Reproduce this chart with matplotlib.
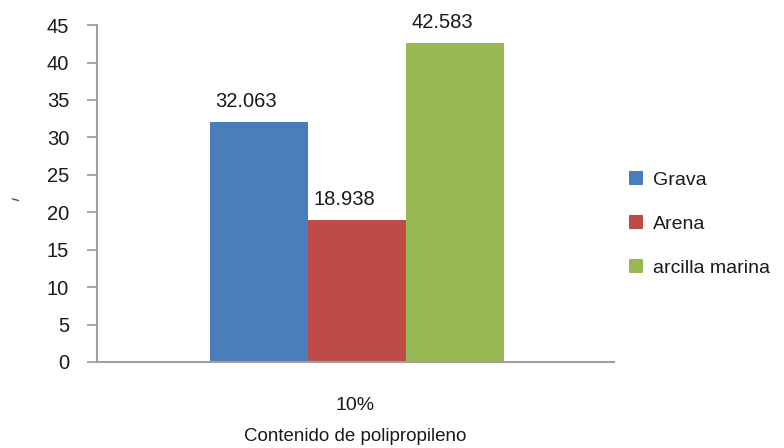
import matplotlib
matplotlib.use("Agg")
from matplotlib import pyplot as plt
import numpy as np

categorias = ["10%"]
series = ["Grava", "Arena", "arcilla marina"]
valores = [32.063, 18.938, 42.583]
colores = ["#4a7ebb", "#be4b48", "#98b954"]
yticks = [0, 5, 10, 15, 20, 25, 30, 35, 40, 45]

plt.rcParams['font.family'] = ['Liberation Sans', 'DejaVu Sans']

fig = plt.figure(figsize=(7.84, 4.48), dpi=100)
ax = fig.add_axes([0.1237, 0.192, 0.6595, 0.752])

ancho = 0.19
x = np.arange(len(categorias))
for i, (nombre, v, c) in enumerate(zip(series, valores, colores)):
    pos = x + (i - 1) * ancho
    ax.bar(pos + 0.003, [v], width=ancho, color=c, label=nombre, zorder=2)
    ax.annotate(f"{v:.3f}", (pos[0], v), xytext=(-8, 8), textcoords="offset points",
                ha="center", va="bottom", fontsize=14.5, color="#1a1a1a")

ax.set_xlim(-0.5, 0.5)
ax.set_ylim(0, 45)
ax.set_yticks(yticks)
ax.set_xticks(x)
ax.set_xticklabels(categorias)
ax.tick_params(axis="y", length=7, width=1.3, color="#a0a0a0", pad=13, labelsize=14.5, labelcolor="#1a1a1a")
ax.tick_params(axis="x", length=0, pad=25, labelsize=14, labelcolor="#1a1a1a")
for s in ["top", "right"]:
    ax.spines[s].set_visible(False)
for s in ["left", "bottom"]:
    ax.spines[s].set_color("#a0a0a0")
    ax.spines[s].set_linewidth(1.5)

ax.set_xlabel("Contenido de polipropileno", fontsize=13.5, color="#1a1a1a", labelpad=10)
fig.text(15 / 784, 1 - 200 / 448, "–", fontsize=11, color="#505050", ha="center", va="center",
         rotation=-15, fontweight="bold")

leg = ax.legend(loc="center left", bbox_to_anchor=(0.995, 0.41), frameon=False,
                fontsize=14, handlelength=0.7, handleheight=0.7, handletextpad=0.55,
                labelspacing=1.35)
for t in leg.get_texts():
    t.set_color("#1a1a1a")

fig.savefig("out.png", dpi=100)
